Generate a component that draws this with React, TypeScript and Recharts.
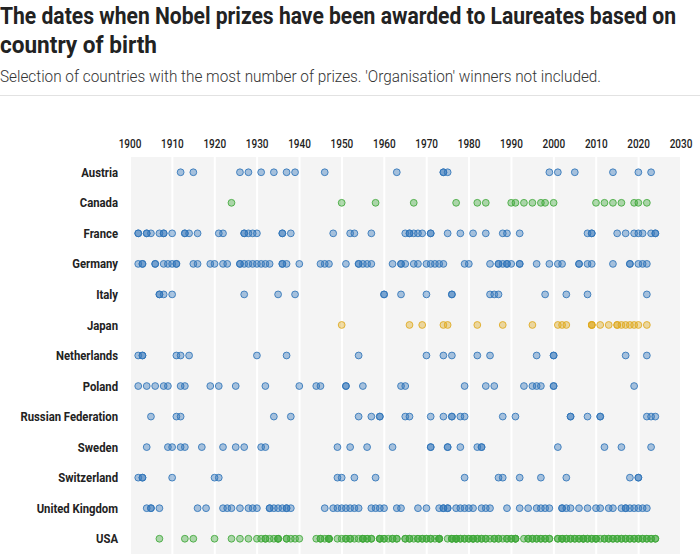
import { ScatterChart, Scatter, XAxis, YAxis, CartesianGrid } from "recharts";

const countries = [
  "Austria",
  "Canada",
  "France",
  "Germany",
  "Italy",
  "Japan",
  "Netherlands",
  "Poland",
  "Russian Federation",
  "Sweden",
  "Switzerland",
  "United Kingdom",
  "USA",
];

const yearTicks = [1900, 1910, 1920, 1930, 1940, 1950, 1960, 1970, 1980, 1990, 2000, 2010, 2020, 2030];

// award years, one entry per laureate
const austria = [1911, 1914, 1925, 1927, 1930, 1933, 1936, 1938, 1945, 1962, 1973, 1973, 1974, 1998, 2000, 2004, 2013, 2019, 2022];
const canada = [1923, 1949, 1957, 1966, 1976, 1981, 1983, 1989, 1990, 1992, 1994, 1996, 1997, 1999, 2009, 2011, 2013, 2015, 2018, 2019, 2021];
const france = [1901, 1901, 1903, 1903, 1904, 1906, 1907, 1907, 1909, 1912, 1912, 1913, 1915, 1920, 1921, 1926, 1926, 1927, 1928, 1929, 1935, 1935, 1937, 1947, 1951, 1952, 1956, 1964, 1965, 1965, 1966, 1967, 1968, 1970, 1970, 1974, 1977, 1980, 1983, 1987, 1988, 1991, 2007, 2008, 2008, 2014, 2016, 2018, 2019, 2020, 2022, 2023, 2023];
const germany = [1901, 1902, 1902, 1905, 1905, 1907, 1908, 1909, 1910, 1910, 1914, 1915, 1918, 1919, 1921, 1922, 1925, 1925, 1926, 1927, 1928, 1929, 1930, 1931, 1932, 1935, 1935, 1936, 1939, 1944, 1945, 1946, 1950, 1953, 1953, 1954, 1955, 1956, 1961, 1963, 1963, 1964, 1966, 1967, 1969, 1970, 1971, 1972, 1973, 1978, 1979, 1984, 1986, 1986, 1987, 1988, 1988, 1989, 1991, 1991, 1995, 1998, 2000, 2001, 2005, 2005, 2007, 2008, 2013, 2017, 2017, 2019, 2020, 2021];
const italy = [1906, 1906, 1907, 1909, 1926, 1934, 1938, 1959, 1959, 1963, 1969, 1975, 1975, 1984, 1985, 1986, 1997, 2002, 2007, 2021];
const japan = [1949, 1965, 1968, 1973, 1974, 1981, 1987, 1994, 2000, 2001, 2002, 2008, 2008, 2008, 2010, 2012, 2014, 2014, 2015, 2016, 2017, 2018, 2019, 2021];
const netherlands = [1901, 1902, 1902, 1910, 1911, 1913, 1929, 1936, 1953, 1969, 1973, 1975, 1981, 1984, 1995, 1999, 1999, 2016, 2021];
const poland = [1901, 1903, 1905, 1907, 1908, 1911, 1912, 1918, 1920, 1924, 1931, 1939, 1943, 1944, 1950, 1950, 1954, 1963, 1964, 1978, 1983, 1985, 1992, 1994, 1995, 1996, 1999, 1999, 2018];
const russia = [1904, 1910, 1911, 1933, 1937, 1953, 1956, 1958, 1958, 1964, 1965, 1970, 1973, 1975, 1975, 1977, 1978, 1987, 1990, 2003, 2003, 2007, 2010, 2010, 2021, 2022, 2023];
const sweden = [1903, 1908, 1909, 1911, 1912, 1916, 1921, 1924, 1926, 1930, 1931, 1948, 1951, 1955, 1961, 1970, 1970, 1974, 1974, 1977, 1981, 1982, 1982, 2000, 2011, 2015, 2022];
const switzerland = [1901, 1902, 1902, 1909, 1919, 1920, 1948, 1949, 1952, 1957, 1978, 1986, 1987, 1991, 1996, 2002, 2017, 2019, 2019];
const uk = [1903, 1904, 1904, 1906, 1915, 1917, 1921, 1922, 1923, 1925, 1927, 1928, 1929, 1932, 1932, 1933, 1934, 1935, 1936, 1936, 1937, 1945, 1947, 1948, 1949, 1950, 1951, 1952, 1953, 1956, 1957, 1958, 1959, 1962, 1963, 1967, 1969, 1972, 1973, 1973, 1974, 1974, 1976, 1977, 1978, 1979, 1980, 1982, 1983, 1984, 1988, 1991, 1993, 1995, 1996, 1997, 1998, 2001, 2001, 2002, 2003, 2005, 2007, 2009, 2010, 2012, 2013, 2015, 2016, 2016, 2017, 2018, 2019, 2020, 2021];
const usa = [1906, 1912, 1914, 1919, 1923, 1925, 1927, 1929, 1930, 1931, 1931, 1932, 1933, 1934, 1934, 1934, 1936, 1936, 1937, 1938, 1939, 1943, 1944, 1944, 1945, 1946, 1946, 1946, 1946, 1948, 1949, 1950, 1950, 1951, 1951, 1952, 1953, 1954, 1954, 1954, 1955, 1955, 1956, 1956, 1958, 1958, 1958, 1959, 1959, 1960, 1961, 1961, 1962, 1962, 1964, 1964, 1965, 1965, 1966, 1967, 1967, 1968, 1968, 1969, 1969, 1970, 1970, 1971, 1972, 1972, 1972, 1972, 1974, 1975, 1975, 1975, 1976, 1976, 1976, 1976, 1977, 1977, 1978, 1978, 1979, 1979, 1980, 1980, 1980, 1981, 1981, 1982, 1982, 1983, 1983, 1984, 1985, 1985, 1986, 1986, 1987, 1988, 1988, 1989, 1989, 1990, 1990, 1990, 1992, 1993, 1993, 1994, 1994, 1995, 1995, 1996, 1996, 1997, 1997, 1998, 1998, 2000, 2000, 2001, 2001, 2001, 2002, 2002, 2003, 2003, 2004, 2004, 2005, 2005, 2006, 2006, 2006, 2007, 2007, 2008, 2008, 2009, 2009, 2009, 2010, 2011, 2011, 2012, 2012, 2013, 2013, 2014, 2014, 2015, 2015, 2016, 2016, 2017, 2017, 2018, 2018, 2019, 2019, 2020, 2020, 2021, 2021, 2022, 2022, 2023, 2023];

const yearsByCountry = [austria, canada, france, germany, italy, japan, netherlands, poland, russia, sweden, switzerland, uk, usa];

const BLUE = "#2f74b9";
const GREEN = "#3fa83a";
const YELLOW = "#dfa91f";
const countryColor: Record<string, string> = { Canada: GREEN, USA: GREEN, Japan: YELLOW };

// prizes are handed out on 10 December
const AWARD_DAY = 344 / 365;

const FONT = "Roboto, 'Liberation Sans', sans-serif";

const makeDot = (color: string) => (props: any) => {
  const { cx, cy } = props;
  if (cx == null || cy == null) return <g />;
  return (
    <circle
      cx={cx}
      cy={cy}
      r={3.4}
      fill={color}
      fillOpacity={0.4}
      stroke={color}
      strokeOpacity={0.85}
      strokeWidth={1}
    />
  );
};

// no condensed font available, so squeeze the labels horizontally
const YearTick = (props: any) => {
  const { x, y, payload } = props;
  return (
    <text
      transform={`translate(${x},${y}) scale(0.8,1)`}
      textAnchor="middle"
      fontSize={12.5}
      fontWeight={500}
      fill="#222"
      fontFamily={FONT}
    >
      {payload.value}
    </text>
  );
};

const CountryTick = (props: any) => {
  const { x, y, payload } = props;
  return (
    <text
      transform={`translate(${x},${y}) scale(0.87,1)`}
      dy="0.35em"
      textAnchor="end"
      fontSize={13}
      fontWeight={700}
      fill="#222"
      fontFamily={FONT}
    >
      {countries[payload.value] ?? ""}
    </text>
  );
};

export default function App() {
  return (
    <div style={{ position: "absolute", left: 0, top: 0, width: 700, height: 555, background: "#fff" }}>
      <svg width={700} height={100} style={{ position: "absolute", left: 0, top: 0 }}>
        {/* title set smaller and stretched tall to mimic a condensed face */}
        <g transform="scale(1,1.16)">
          <text x={0} y={20.7} fontFamily={FONT} fontSize={20.7} fontWeight={700} fill="#222" textLength={676} lengthAdjust="spacingAndGlyphs">
            The dates when Nobel prizes have been awarded to Laureates based on
          </text>
          <text x={0} y={45.7} fontFamily={FONT} fontSize={20.7} fontWeight={700} fill="#222" textLength={157} lengthAdjust="spacingAndGlyphs">
            country of birth
          </text>
        </g>
        <text x={0} y={82} fontFamily={FONT} fontSize={16} fontWeight={300} fill="#333" textLength={601} lengthAdjust="spacingAndGlyphs">
          Selection of countries with the most number of prizes. 'Organisation' winners not included.
        </text>
        <line x1={0} x2={700} y1={95.5} y2={95.5} stroke="#e2e2e2" strokeWidth={1} />
      </svg>
      <div style={{ position: "absolute", left: 0, top: 100 }}>
        <ScatterChart width={700} height={455} margin={{ top: 27, right: 19, bottom: 1, left: 0 }}>
          <CartesianGrid horizontal={false} vertical={true} fill="#f4f4f4" stroke="#ffffff" strokeWidth={2} />
          <XAxis
            type="number"
            dataKey="x"
            orientation="top"
            domain={[1900, 2030]}
            ticks={yearTicks}
            height={30}
            axisLine={false}
            tickLine={false}
            tickSize={0}
            tickMargin={9}
            tick={<YearTick />}
            allowDataOverflow
          />
          <YAxis
            type="number"
            dataKey="y"
            domain={[-0.5, 12.5]}
            ticks={countries.map((_, i) => i)}
            reversed
            width={130}
            axisLine={false}
            tickLine={false}
            tickSize={0}
            tickMargin={12}
            tick={<CountryTick />}
            interval={0}
          />
          {countries.map((name, i) => {
            const color = countryColor[name] ?? BLUE;
            const data = yearsByCountry[i].map((yr) => ({ x: yr + AWARD_DAY, y: i }));
            return (
              <Scatter
                key={name}
                name={name}
                data={data}
                shape={makeDot(color)}
                isAnimationActive={false}
              />
            );
          })}
        </ScatterChart>
      </div>
    </div>
  );
}
